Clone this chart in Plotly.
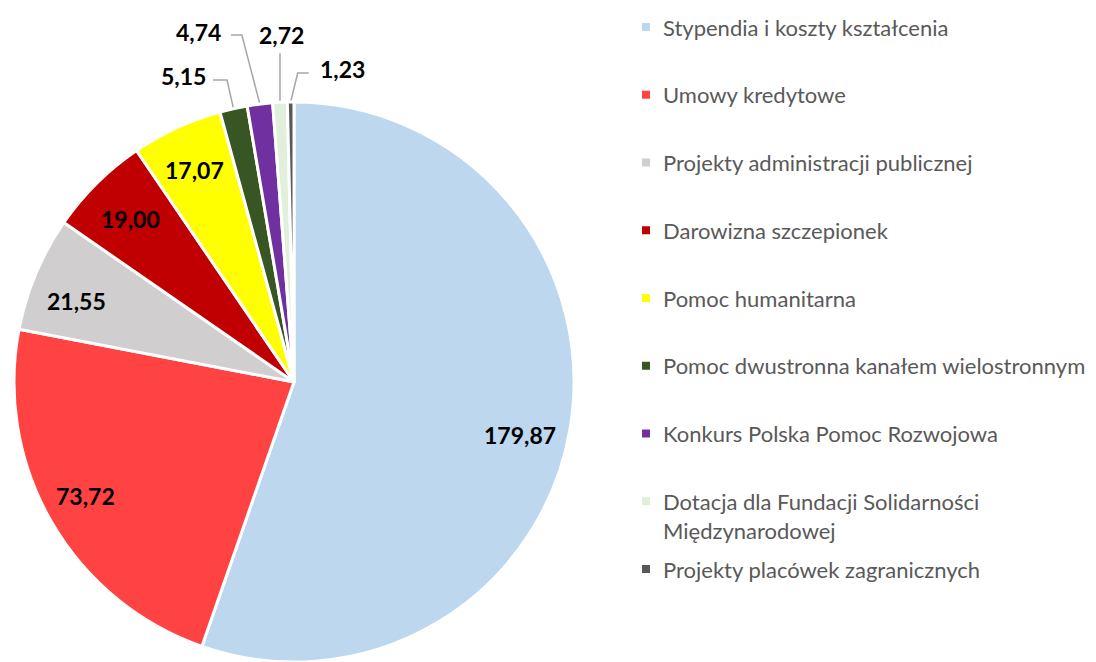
import math
import plotly.graph_objects as go

# ---------------- data ----------------
labels = [
    "Stypendia i koszty kształcenia",
    "Umowy kredytowe",
    "Projekty administracji publicznej",
    "Darowizna szczepionek",
    "Pomoc humanitarna",
    "Pomoc dwustronna kanałem wielostronnym",
    "Konkurs Polska Pomoc Rozwojowa",
    "Dotacja dla Fundacji Solidarności<br>Międzynarodowej",
    "Projekty placówek zagranicznych",
]
values = [179.87, 73.72, 21.55, 19.00, 17.07, 5.15, 4.74, 2.72, 1.23]
colors = ["#BDD7EE", "#FF4343", "#D0CECE", "#C00000", "#FFFF00",
          "#375623", "#7030A0", "#E2EFDA", "#595959"]

# ---------------- layout constants ----------------
OFF = 8                      # page body margin
W, H = 1096 - OFF, 662 - OFF
CX, CY, R = 294, 382, 280    # screen px
FONT = "Lato"
LABEL_SIZE = 23
LEG_SIZE = 22
LEG_COLOR = "#595959"
LINE_COLOR = "#A6A6A6"
INSIDE_FRAC = 0.83
# small best-fit nudges (px) for inside labels
inside_nudge = {0: (-3, 14), 1: (-7, -2), 2: (-3, 9), 3: (0, 2), 4: (-2, -1)}

# leader-line styling for the small slices (offsets in px from slice edge)
leader_style = {
    5: dict(elbow=(-6.5, -28.5), run=-14, gap=5, side="right", tdy=-4),
    6: dict(elbow=(-18, -69), run=-11, gap=8, side="right", tdy=-3),
    7: dict(elbow=(0, -49), run=0, gap=0, side="top", tdy=-2),
    8: dict(elbow=(7, -29), run=11, gap=9, side="left", tdy=-4),
}

LEG_X_MARK = 646
LEG_X_TEXT = 661
LEG_Y0 = 27
LEG_STEP = 67.75

fmt = lambda v: f"{v:.2f}".replace(".", ",")
total = sum(values)

fig = go.Figure()

fig.add_trace(go.Pie(
    labels=labels, values=values, sort=False, direction="clockwise", rotation=0,
    marker=dict(colors=colors, line=dict(color="white", width=3)),
    textinfo="none", hoverinfo="label+value", showlegend=False,
    domain=dict(x=[(CX - R - OFF) / W, (CX + R - OFF) / W],
                y=[max(0, (662 - CY - R) / H), (662 - CY + R) / H]),
))

annotations = []
cum = 0.0
for i, v in enumerate(values):
    mid = math.radians((cum + v / 2) / total * 360)
    cum += v
    sx, sy = math.sin(mid), -math.cos(mid)
    txt = f"<b>{fmt(v)}</b>"
    tfont = dict(family=FONT, size=LABEL_SIZE, color="black")
    if i not in leader_style:
        nx, ny = inside_nudge.get(i, (0, 0))
        annotations.append(dict(
            x=CX + INSIDE_FRAC * R * sx + nx, y=CY + INSIDE_FRAC * R * sy + ny,
            xref="x", yref="y", text=txt, showarrow=False, font=tfont,
            xanchor="center", yanchor="middle"))
    else:
        st = leader_style[i]
        ax, ay = CX + R * sx, CY + R * sy
        ex, ey = ax + st["elbow"][0], ay + st["elbow"][1]
        px, py = ex + st["run"], ey
        fig.add_trace(go.Scatter(
            x=[ax, ex, px], y=[ay, ey, py], mode="lines",
            line=dict(color=LINE_COLOR, width=1.5), hoverinfo="skip", showlegend=False))
        if st["side"] == "right":
            annotations.append(dict(x=px - st["gap"], y=py + st["tdy"], xanchor="right", yanchor="middle",
                                    xref="x", yref="y", text=txt, showarrow=False, font=tfont))
        elif st["side"] == "left":
            annotations.append(dict(x=px + st["gap"], y=py + st["tdy"], xanchor="left", yanchor="middle",
                                    xref="x", yref="y", text=txt, showarrow=False, font=tfont))
        else:
            annotations.append(dict(x=px + 2, y=py + st["tdy"], xanchor="center", yanchor="bottom",
                                    xref="x", yref="y", text=txt, showarrow=False, font=tfont))

# manual legend
leg_y = [LEG_Y0 + k * LEG_STEP for k in range(len(labels))]
fig.add_trace(go.Scatter(
    x=[LEG_X_MARK] * len(labels), y=leg_y, mode="markers",
    marker=dict(symbol="square", size=8, color=colors),
    hoverinfo="skip", showlegend=False))
for k, lab in enumerate(labels):
    nlines = lab.count("<br>") + 1
    yc = leg_y[k] + (nlines - 1) * LEG_SIZE * 1.3 / 2
    annotations.append(dict(x=LEG_X_TEXT, y=yc, xref="x", yref="y", text=lab, showarrow=False,
                            xanchor="left", yanchor="middle", align="left",
                            font=dict(family=FONT, size=LEG_SIZE, color=LEG_COLOR)))

fig.update_layout(
    width=W, height=H, margin=dict(l=0, r=0, t=0, b=0),
    paper_bgcolor="white", plot_bgcolor="white",
    xaxis=dict(range=[OFF, OFF + W], visible=False, fixedrange=True, domain=[0, 1]),
    yaxis=dict(range=[OFF + H, OFF], visible=False, fixedrange=True, domain=[0, 1]),
    annotations=annotations,
    font=dict(family=FONT),
)

fig.write_html("out.html")
